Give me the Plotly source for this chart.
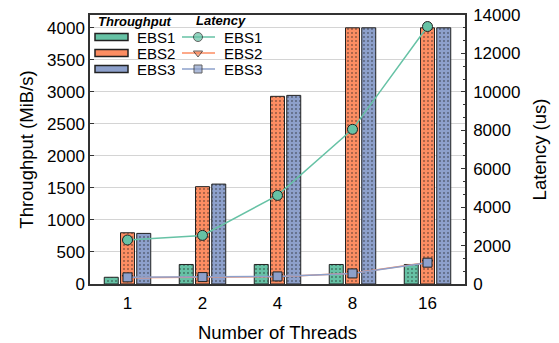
import plotly.graph_objects as go

threads = ["1", "2", "4", "8", "16"]
series = ["EBS1", "EBS2", "EBS3"]
throughput_ebs1 = [105, 305, 305, 305, 305]
throughput_ebs2 = [800, 1520, 2930, 4000, 4000]
throughput_ebs3 = [790, 1560, 2945, 4000, 4000]
latency_ebs1 = [2290, 2530, 4610, 8050, 13400]
latency_ebs2 = [330, 350, 380, 560, 1120]
latency_ebs3 = [345, 360, 395, 550, 1110]
y_ticks = [0, 500, 1000, 1500, 2000, 2500, 3000, 3500, 4000]
y2_ticks = [0, 2000, 4000, 6000, 8000, 10000, 12000, 14000]

colors = ["#66c2a5", "#fc8d62", "#8da0cb"]
markers = ["circle", "triangle-down", "square"]
FONT = "Liberation Sans, Arial, sans-serif"

fig = go.Figure()
for name, vals, c in zip(series, [throughput_ebs1, throughput_ebs2, throughput_ebs3], colors):
    fig.add_trace(go.Bar(
        x=threads, y=vals, name=name, showlegend=False,
        marker=dict(color=c, line=dict(color="#222222", width=1),
                    pattern=dict(shape=".", size=4, solidity=0.08, fgcolor="#1a1a1a", fgopacity=1)),
        yaxis="y",
    ))
for name, vals, c, m in zip(series, [latency_ebs1, latency_ebs2, latency_ebs3], colors, markers):
    fig.add_trace(go.Scatter(
        x=threads, y=vals, name=name, mode="lines+markers", showlegend=False,
        line=dict(color=c, width=1.5),
        marker=dict(symbol=m, size=10 if m == "circle" else 9, color=c,
                    line=dict(color="#222222", width=1)),
        yaxis="y2",
    ))

L, R, T, B = 90, 465, 15, 284
def px(x):
    return (x - L) / (R - L)
def py(y):
    return (B - y) / (B - T)

shapes = [dict(type="rect", xref="paper", yref="paper", x0=px(91), x1=px(292), y0=py(84), y1=py(29),
               fillcolor="white", line=dict(width=0), layer="between")]
annotations = []
rows = [37, 53, 69]
for name, c, m, ry in zip(series, colors, markers, rows):
    shapes.append(dict(type="rect", xref="paper", yref="paper", x0=px(95), x1=px(128),
                       y0=py(ry + 3.5), y1=py(ry - 3.5), fillcolor=c,
                       line=dict(color="#222222", width=1.5), layer="above"))
    shapes.append(dict(type="line", xref="paper", yref="paper", x0=px(182), x1=px(215),
                       y0=py(ry), y1=py(ry), line=dict(color=c, width=1.5), layer="between"))
    annotations.append(dict(xref="paper", yref="paper", x=px(135), y=py(ry), text=name,
                            showarrow=False, xanchor="left", yanchor="middle",
                            font=dict(family=FONT, size=15, color="black")))
    annotations.append(dict(xref="paper", yref="paper", x=px(222), y=py(ry), text=name,
                            showarrow=False, xanchor="left", yanchor="middle",
                            font=dict(family=FONT, size=15, color="black")))
annotations.append(dict(xref="paper", yref="paper", x=px(96), y=py(22), text="<b><i>Throughput</i></b>",
                        showarrow=False, xanchor="left", yanchor="middle",
                        font=dict(family=FONT, size=13, color="black")))
annotations.append(dict(xref="paper", yref="paper", x=px(194), y=py(21), text="<b><i>Latency</i></b>",
                        showarrow=False, xanchor="left", yanchor="middle",
                        font=dict(family=FONT, size=13, color="black")))

# legend key markers
fig.add_trace(go.Scatter(
    x=[px(198)] * 3, y=[py(r) for r in rows], mode="markers", showlegend=False,
    marker=dict(symbol=markers, size=[9, 8, 8], color=colors, line=dict(color="#222222", width=1)),
    xaxis="x3", yaxis="y3", hoverinfo="skip", cliponaxis=False,
))

fig.update_layout(
    width=559, height=343,
    margin=dict(l=L, r=559 - R, t=T, b=343 - B, autoexpand=False),
    paper_bgcolor="white", plot_bgcolor="white",
    barmode="group", bargap=0.35, bargroupgap=0.14,
    font=dict(family=FONT, size=17, color="black"),
    xaxis=dict(type="category", title=dict(text="Number of Threads", font=dict(size=18.5), standoff=17),
               showline=True, linecolor="#333333", linewidth=1.5, mirror=True,
               ticks="", tickfont=dict(size=17), ticklabelstandoff=3, showgrid=False, automargin=False),
    yaxis=dict(range=[0, 4200], tickvals=y_ticks, title=dict(text="Throughput (MiB/s)", font=dict(size=18.5), standoff=9),
               showline=True, linecolor="#333333", linewidth=1.5, mirror=False,
               ticks="inside", ticklen=4, tickcolor="#333333", tickfont=dict(size=17),
               showgrid=True, gridcolor="#d4d4d4", gridwidth=1, zeroline=False, automargin=False),
    yaxis2=dict(range=[0, 14000], tickvals=y2_ticks, ticktext=[str(v) for v in y2_ticks],
                overlaying="y", side="right",
                title=dict(text="Latency (us)", font=dict(size=18.5), standoff=14),
                showline=True, linecolor="#333333", linewidth=1.5,
                ticks="inside", ticklen=4, tickcolor="#333333", tickfont=dict(size=17),
                ticklabelstandoff=3,
                minor=dict(dtick=2000 / 3, tick0=0, ticks="inside", ticklen=2.5, tickcolor="#333333"),
                showgrid=False, zeroline=False, automargin=False),
    xaxis3=dict(range=[0, 1], overlaying="x", visible=False, fixedrange=True),
    yaxis3=dict(range=[0, 1], overlaying="y", visible=False, fixedrange=True),
    shapes=shapes, annotations=annotations,
)

fig.write_html("out.html")
